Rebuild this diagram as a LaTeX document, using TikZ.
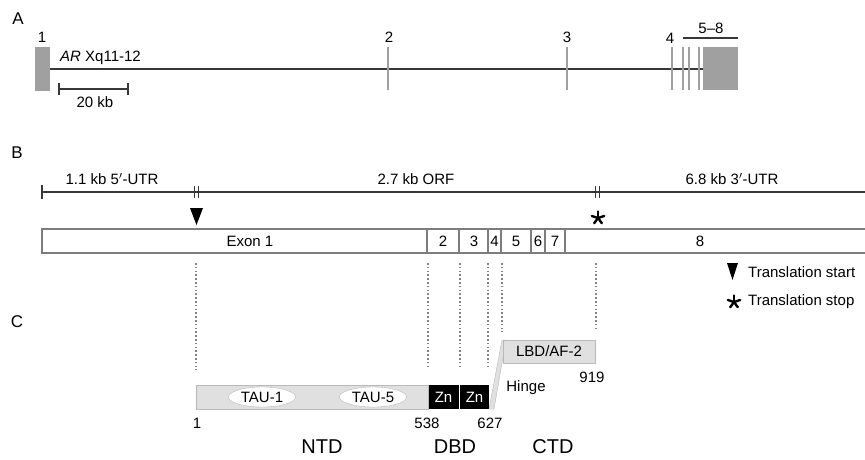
\documentclass[tikz,border=0pt]{standalone}
\usepackage{fontspec}
\setmainfont{Liberation Sans}
\usetikzlibrary{arrows}
\usetikzlibrary{shapes.geometric}
\definecolor{exongray}{RGB}{160,160,160}
\definecolor{genegray}{RGB}{55,55,55}
\definecolor{bargray}{RGB}{125,125,125}
\definecolor{domfill}{RGB}{224,224,224}
\definecolor{domedge}{RGB}{185,185,185}
\definecolor{dotgray}{RGB}{130,130,130}

\begin{document}
\begin{tikzpicture}[line cap=butt,line join=miter,x=1pt,y=-1pt,
  txt/.style={font=\fontsize{15}{17}\selectfont,inner sep=0pt},
  panel/.style={font=\fontsize{17}{19}\selectfont,inner sep=0pt},
  region/.style={font=\fontsize{20}{22}\selectfont,inner sep=0pt},
  geneline/.style={genegray,line width=2.2pt},
  exonline/.style={exongray,line width=2.6pt},
  barline/.style={bargray,line width=1.8pt},
  guide/.style={dotgray,line width=1.5pt,dash pattern=on 1.5pt off 2.3pt},
  stopmark/.style={line width=2.4pt,line cap=round}]
\useasboundingbox (0,0) rectangle (865,459);

% A
\node[panel] (labA) at (18,19) {A};
\fill[exongray] (35,47) rectangle (50,91);
\draw[geneline] (50,69)-- (703,69);
\foreach \x in {388,567,672,683,689,699}
  \draw[exonline] (\x,47)-- (\x,90);
\fill[exongray] (703,47) rectangle (738,90);
\draw[geneline] (683,38)-- (738,38);
\node[txt] (ex1) at (42,37) {1};
\node[txt] (ex2) at (389,37) {2};
\node[txt] (ex3) at (567,37) {3};
\node[txt] (ex4) at (670,38) {4};
\node[txt] (ex58) at (711,28) {5--8};
\node[txt,anchor=west] (locus) at (60,58) {\textit{AR} Xq11-12};
\draw[geneline] (59,89)-- (128,89);
\draw[geneline] (59,83)-- (59,95);
\draw[geneline] (128,83)-- (128,95);
\node[txt] (scale) at (95,102) {20 kb};

% B
\node[panel] (labB) at (17,153) {B};
\draw[geneline] (42,192)-- (865,192);
\draw[geneline] (42,185)-- (42,199);
\foreach \x in {194.5,198.5,595.5,599.5}
  \draw[genegray,line width=1.8pt] (\x,186)-- (\x,198);
\node[txt] (utr5) at (112,179) {1.1 kb 5$'$-UTR};
\node[txt] (orf) at (416,179) {2.7 kb ORF};
\node[txt] (utr3) at (732,179) {6.8 kb 3$'$-UTR};
\fill[black] (190,208)-- (203,208)-- (196.5,225)-- cycle;
\foreach \a in {90,162,234,306,18}
  \draw[stopmark] (598,218)-- ++(\a:-6.5);
\draw[barline] (865,229)-| (42,253)-- (865,253);
\foreach \x in {427,459,488,501,531,545,565}
  \draw[barline] (\x,229)-- (\x,253);
\node[txt] (exon1) at (250,241) {Exon 1};
\node[txt] (exon2) at (443,241) {2};
\node[txt] (exon3) at (474,241) {3};
\node[txt] (exon4) at (494.5,241) {4};
\node[txt] (exon5) at (516,241) {5};
\node[txt] (exon6) at (538,241) {6};
\node[txt] (exon7) at (555,241) {7};
\node[txt] (exon8) at (700,241) {8};
\fill[black] (727,263)-- (738,263)-- (732.5,280)-- cycle;
\node[txt,anchor=west] (tstart) at (748,272) {Translation start};
\foreach \a in {90,162,234,306,18}
  \draw[stopmark] (734,302)-- ++(\a:-6.5);
\node[txt,anchor=west] (tstop) at (748,302) {Translation stop};

% C
\node[panel] (labC) at (17,322) {C};
\foreach \x/\y in {196/370,428/368,460/368,488/368,502/332,596/330}
  \draw[guide] (\x,263)-- (\x,\y);
\draw[domedge,fill=domfill] (196,385) rectangle (428,409);
\node[txt,draw=domedge,fill=white,ellipse,minimum width=67pt,minimum height=20pt] (tau1) at (262,397) {TAU-1};
\node[txt,draw=domedge,fill=white,ellipse,minimum width=67pt,minimum height=20pt] (tau5) at (373,397) {TAU-5};
\fill[black] (429,385) rectangle (458.5,409);
\fill[black] (460,385) rectangle (489,409);
\node[txt,white] (zn1) at (443.5,397) {Zn};
\node[txt,white] (zn2) at (474.5,397) {Zn};
\draw[domedge,fill=domfill] (489,409)-- (494,409)-- (506,340)-- (502,340)-- cycle;
\draw[domedge,fill=domfill] (503,340) rectangle (595,363);
\node[txt] (lbd) at (549,351) {LBD/AF-2};
\node[txt] (hinge) at (526,388) {Hinge};
\node[txt] (aa919) at (592,377) {919};
\node[txt] (aa1) at (197,423) {1};
\node[txt] (aa538) at (427,423) {538};
\node[txt] (aa627) at (490,423) {627};
\node[region] (ntd) at (322,447) {NTD};
\node[region] (dbd) at (455,447) {DBD};
\node[region] (ctd) at (553,447) {CTD};
\end{tikzpicture}
\end{document}
